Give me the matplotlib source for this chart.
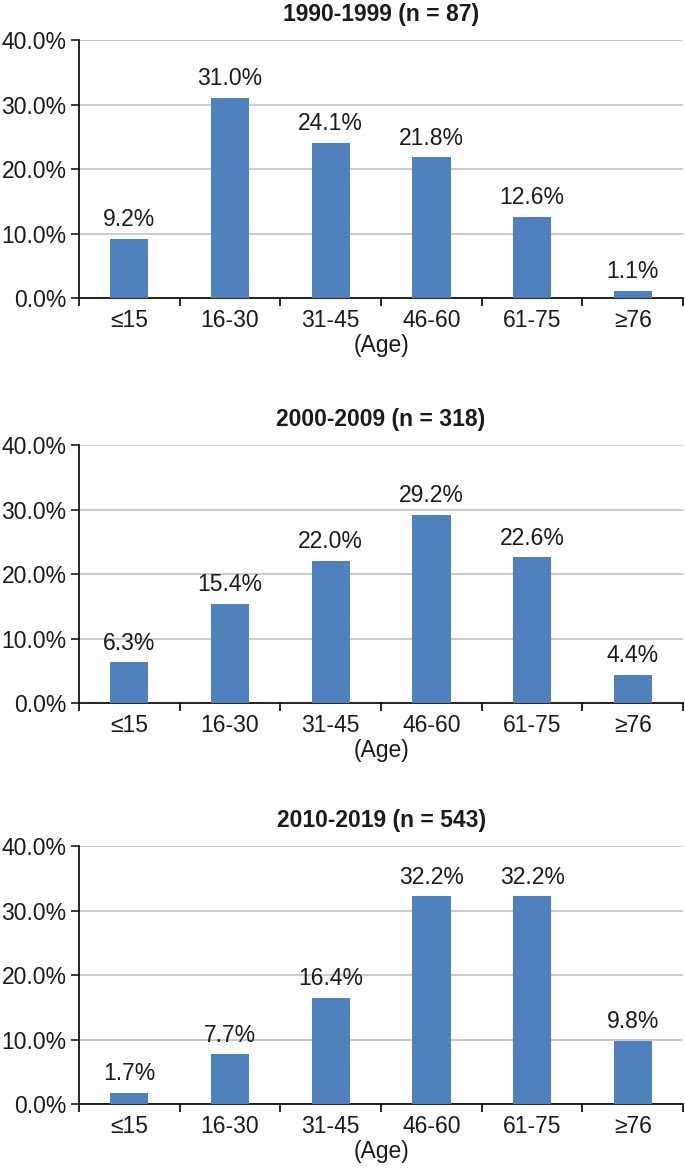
import matplotlib.pyplot as plt
import numpy as np

plt.rcParams['font.family'] = ['Liberation Sans', 'DejaVu Sans']

categorias = ['≤15', '16-30', '31-45', '46-60', '61-75', '≥76']
titulos = ['1990-1999 (n = 87)', '2000-2009 (n = 318)', '2010-2019 (n = 543)']
valores_90 = [9.2, 31.0, 24.1, 21.8, 12.6, 1.1]
valores_00 = [6.3, 15.4, 22.0, 29.2, 22.6, 4.4]
valores_10 = [1.7, 7.7, 16.4, 32.2, 32.2, 9.8]
series = [valores_90, valores_00, valores_10]

cor_barra = '#4F81BD'
cor_texto = '#1a1a1a'
tam = 16.5

fig = plt.figure(figsize=(6.85, 11.69), dpi=100)
fig.patch.set_facecolor('white')

posicoes = [0.745, 0.3986, 0.0556]
altura = 0.2207

for base, titulo, valores in zip(posicoes, titulos, series):
    ax = fig.add_axes([0.1153, base, 0.882, altura])
    x = np.arange(len(categorias))
    barras = ax.bar(x, valores, 0.38, color=cor_barra, zorder=3)

    for barra, v in zip(barras, valores):
        ax.text(barra.get_x() + barra.get_width() / 2, v + 1.2, f'{v:.1f}%',
                ha='center', va='bottom', fontsize=tam, color=cor_texto)

    ax.set_xlim(-0.5, len(categorias) - 0.5)
    ax.set_ylim(0, 40)
    ax.set_yticks([0, 10, 20, 30, 40])
    ax.set_yticklabels([f'{t:.1f}%' for t in [0, 10, 20, 30, 40]])
    ax.yaxis.grid(True, color='#bcbcbc', linewidth=1.1, zorder=0)
    ax.set_axisbelow(True)

    ax.set_xticks(np.arange(-0.5, len(categorias), 1.0))
    ax.set_xticklabels([])
    ax.set_xticks(x, minor=True)
    ax.set_xticklabels(categorias, minor=True)
    ax.tick_params(axis='x', which='minor', length=0, pad=8, labelsize=tam, colors=cor_texto)
    ax.tick_params(axis='x', which='major', length=6, width=1.2, direction='out')
    ax.tick_params(axis='y', length=6, width=1.2, direction='out', pad=3,
                   labelsize=tam, colors=cor_texto)

    for lado in ['top', 'right']:
        ax.spines[lado].set_visible(False)
    for lado in ['left', 'bottom']:
        ax.spines[lado].set_linewidth(1.2)
        ax.spines[lado].set_color('black')

    ax.set_xlabel('(Age)', fontsize=tam, color=cor_texto, labelpad=1)
    ax.set_title(titulo, fontsize=16.5, fontweight='bold', pad=14, color=cor_texto)

plt.savefig('out.png', dpi=100, facecolor=fig.get_facecolor())
plt.close()
